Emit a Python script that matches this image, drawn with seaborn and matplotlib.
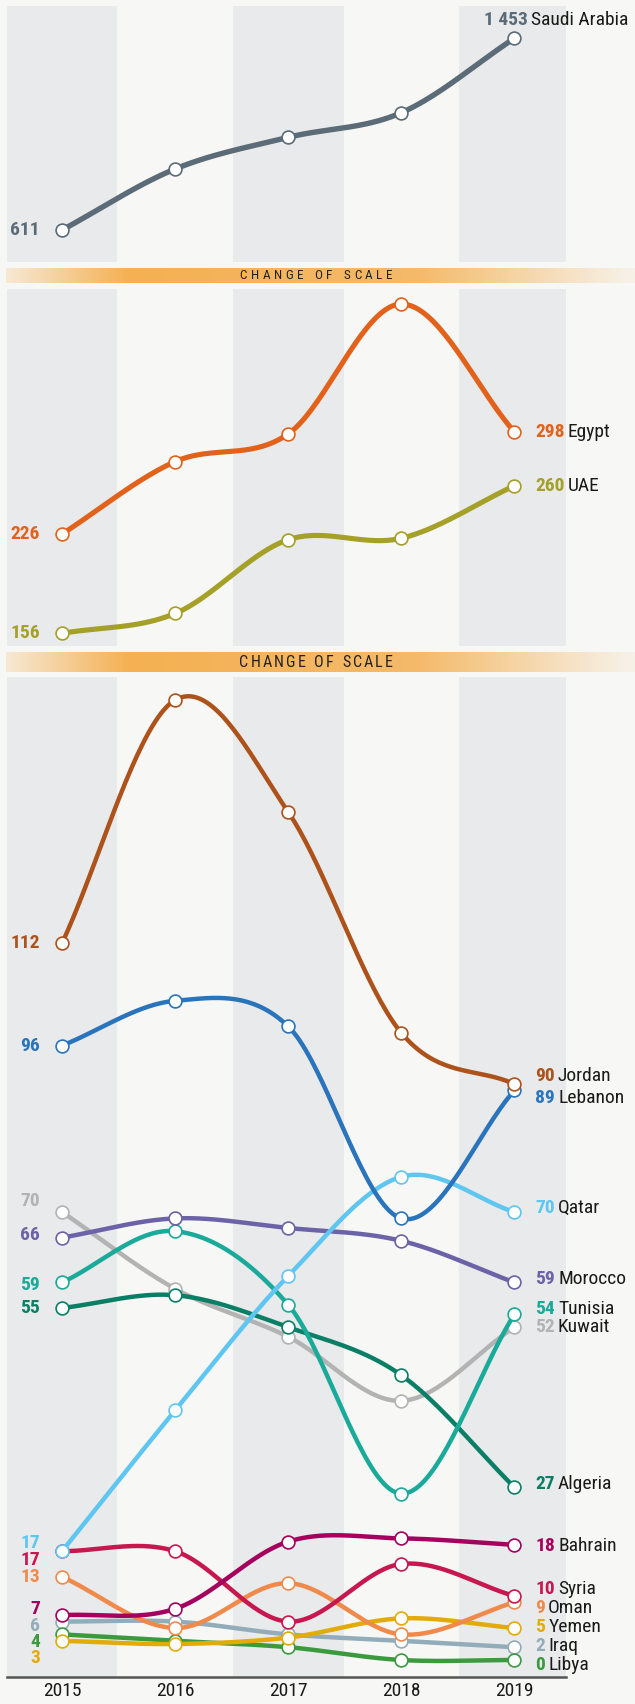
import numpy as np
import pandas as pd
import seaborn as sns
import matplotlib.pyplot as plt
from matplotlib import font_manager
from matplotlib.colors import to_rgb

# data
years = [2015, 2016, 2017, 2018, 2019]

saudi = [611, 879, 1018, 1126, 1453]

egypt = [226, 277, 296.5, 388, 298]
uae = [156, 170, 222, 223, 260]

jordan = [112, 150, 132.5, 98, 90]
lebanon = [96, 103, 99, 69, 89]
qatar = [17, 39, 60, 75.5, 70]
morocco = [66, 69, 67.5, 65.5, 59]
kuwait = [70, 58, 50.5, 40.5, 52]
tunisia = [59, 67, 55.5, 26, 54]
algeria = [55, 57, 52, 44.5, 27]
bahrain = [7, 8, 18.5, 19, 18]
syria = [17, 17, 6, 15, 10]
oman = [13, 5, 12, 4, 9]
yemen = [3, 2.5, 3.5, 6.5, 5]
iraq = [6, 6, 4, 3, 2]
libya = [4, 3, 2, 0, 0]

colors = {
    "Saudi Arabia": "#5b6b77", "Egypt": "#e2621b", "UAE": "#a5a028",
    "Jordan": "#ad521a", "Lebanon": "#2a74bb", "Qatar": "#5ec6f0",
    "Morocco": "#6b62a8", "Kuwait": "#b3b3b3", "Tunisia": "#19aa99",
    "Algeria": "#0a7f66", "Bahrain": "#a5005e", "Syria": "#c7174f",
    "Oman": "#f08a4b", "Yemen": "#e2ab08", "Iraq": "#93acba", "Libya": "#3b9a3e",
}

# label nudges in pixels (up positive): (left, right)
nudges = {
    "Kuwait": (11, 0), "Morocco": (3, 3), "Tunisia": (-3, 5), "Qatar": (8, 4),
    "Syria": (-9, 7), "Bahrain": (6, -1), "Iraq": (-4, 1.5), "Libya": (-8, -5),
    "Yemen": (-17, 1), "Jordan": (0, 8), "Lebanon": (0, -8), "Algeria": (0, 3),
    "Oman": (0, -5.5),
}

BG = "#f7f7f5"
BAND = "#e9eaeb"

# pick a narrow face if one is installed
fl = font_manager.fontManager.ttflist
names = {f.name for f in fl}
STRETCH = "normal"
FAMILY = "Roboto"
for cand in ["Liberation Sans Narrow", "Roboto Condensed", "Open Sans Condensed",
             "Noto Sans Condensed"]:
    if cand in names:
        FAMILY = cand
        break
else:
    if any(f.name == "DejaVu Sans" and "condensed" in str(f.stretch) for f in fl):
        FAMILY, STRETCH = "DejaVu Sans", "condensed"
plt.rcParams["font.family"] = [FAMILY, "DejaVu Sans"]
plt.rcParams["font.stretch"] = STRETCH
FS = 14

W, H = 635, 1704
fig = plt.figure(figsize=(W / 100, H / 100), dpi=100)
fig.patch.set_facecolor(BG)


def smooth(xs, ys, n=40):
    # catmull-rom through the points
    ys = np.asarray(ys, float)
    m = np.zeros_like(ys)
    m[1:-1] = (ys[2:] - ys[:-2]) / 2
    m[0] = ys[1] - ys[0]
    m[-1] = ys[-1] - ys[-2]
    out_x, out_y = [], []
    for i in range(len(ys) - 1):
        t = np.linspace(0, 1, n)
        h00 = 2 * t**3 - 3 * t**2 + 1
        h10 = t**3 - 2 * t**2 + t
        h01 = -2 * t**3 + 3 * t**2
        h11 = t**3 - t**2
        out_x.extend(xs[i] + t)
        out_y.extend(h00 * ys[i] + h10 * m[i] + h01 * ys[i + 1] + h11 * m[i + 1])
    return np.array(out_x), np.array(out_y)


def make_ax(top, bottom):
    ax = fig.add_axes([7 / W, 1 - bottom / H, 559 / W, (bottom - top) / H])
    ax.set_facecolor(BG)
    for yr in (2015, 2017, 2019):
        ax.axvspan(yr - 0.49, yr + 0.49, color=BAND, lw=0, zorder=0)
    ax.set_xlim(2014.513, 2019.457)
    for s in ax.spines.values():
        s.set_visible(False)
    ax.set_xticks([])
    ax.set_yticks([])
    return ax


def draw(ax, series, lw):
    z = 2
    for name, vals in series:
        col = colors[name]
        df = pd.DataFrame({"year": years, "value": vals})
        sx, sy = smooth(years, vals)
        sns.lineplot(x=sx, y=sy, ax=ax, color=col, lw=lw, sort=False,
                     estimator=None, zorder=z)
        sns.scatterplot(data=df, x="year", y="value", ax=ax, color="white",
                        edgecolor=col, s=85, linewidth=1.2, zorder=z + 1)
        z += 2
        ln, rn = nudges.get(name, (0, 0))
        first, last = vals[0], vals[-1]
        ax.annotate(f"{first:,}".replace(",", " "), xy=(2015, first),
                    xytext=(-22, ln), textcoords="offset pixels", ha="right",
                    va="center", color=col, fontsize=FS, fontweight="bold",
                    annotation_clip=False)
        if name == "Saudi Arabia":
            off = (-30, 18)
        else:
            off = (21, rn)
        vt = ax.annotate(f"{last:,}".replace(",", " "), xy=(2019, last),
                         xytext=off, textcoords="offset pixels", ha="left",
                         va="center", color=col, fontsize=FS, fontweight="bold",
                         annotation_clip=False)
        ax.annotate(name, xy=(1, 0), xycoords=vt, xytext=(3, 0),
                    textcoords="offset pixels", ha="left", va="bottom",
                    color="#1a1a1a", fontsize=FS, annotation_clip=False)
    ax.set_xlabel("")
    ax.set_ylabel("")


def scale_bar(top, h, fs):
    bax = fig.add_axes([6 / W, 1 - (top + h) / H, (W - 6) / W, h / H])
    px = np.linspace(6, W, 600)
    w = np.interp(px, [6, 130, 420, 630], [0.2, 1, 0.85, 0.08])
    c0 = np.array(to_rgb(BG))
    c1 = np.array(to_rgb("#f4b052"))
    img = c0[None, :] * (1 - w[:, None]) + c1[None, :] * w[:, None]
    bax.imshow(img[None, :, :], aspect="auto", extent=(6, W, 0, 1))
    bax.set_xlim(6, W)
    bax.set_ylim(0, 1)
    bax.axis("off")
    # letter-spaced caption, 153 px wide, centred at x=316
    label = "CHANGE OF SCALE"
    r = fig.canvas.get_renderer()
    parts = [bax.text(0, 0.47, ch, fontsize=fs, color="#222222", va="center",
                      ha="left") for ch in label]
    widths = [p.get_window_extent(r).width for p in parts]
    letter = np.mean([wd for wd, ch in zip(widths, label) if ch != " "])
    widths = [wd if ch != " " else letter * 0.55 for wd, ch in zip(widths, label)]
    track = (153 - sum(widths)) / (len(label) - 1)
    x = 316 - 153 / 2
    for p, wd in zip(parts, widths):
        p.set_x(x)
        x += wd + track


# top panel
ax1 = make_ax(6, 262)
draw(ax1, [("Saudi Arabia", saudi)], lw=3.9)
ax1.set_ylim(470.5, 1594.8)

scale_bar(268, 15, 9.5)

# middle panel
ax2 = make_ax(289.3, 645.7)
draw(ax2, [("Egypt", egypt), ("UAE", uae)], lw=3.7)
ax2.set_ylim(147.3, 398.4)

scale_bar(652, 20, 11.5)

# bottom panel
ax3 = make_ax(677, 1676.7)
draw(ax3, [("Kuwait", kuwait), ("Iraq", iraq), ("Libya", libya),
           ("Yemen", yemen), ("Oman", oman), ("Syria", syria),
           ("Bahrain", bahrain), ("Algeria", algeria), ("Tunisia", tunisia),
           ("Morocco", morocco), ("Qatar", qatar), ("Lebanon", lebanon),
           ("Jordan", jordan)], lw=3.2)
ax3.set_ylim((1660 - 1676.7) / 6.4, (1660 - 677) / 6.4)
ax3.spines["bottom"].set_visible(True)
ax3.spines["bottom"].set_color("#555555")
ax3.spines["bottom"].set_linewidth(1.8)
ax3.set_xticks(years)
ax3.set_xticklabels([str(y) for y in years], fontsize=FS, color="#1a1a1a")
ax3.tick_params(axis="x", length=0, pad=4)

fig.savefig("out.png", dpi=100, facecolor=BG)
